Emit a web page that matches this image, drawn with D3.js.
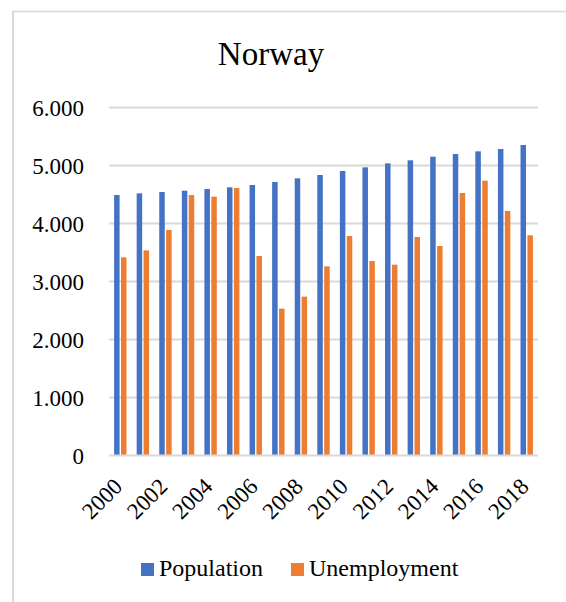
<!DOCTYPE html>
<html>
<head>
<meta charset="utf-8">
<script src="https://cdn.jsdelivr.net/npm/d3@7/dist/d3.min.js"></script>
<style>
  html, body { margin: 0; padding: 0; background: #fff; }
  svg { display: block; }
  text { font-family: "Liberation Serif", "DejaVu Serif", serif; fill: #000; }
</style>
</head>
<body>
<svg id="chart" width="566" height="602"></svg>
<script>
// Norway: population and unemployment (thousands, shown with "." grouping)
const years = [2000, 2001, 2002, 2003, 2004, 2005, 2006, 2007, 2008, 2009,
               2010, 2011, 2012, 2013, 2014, 2015, 2016, 2017, 2018];
const population = [4491, 4520, 4543, 4566, 4595, 4624, 4664, 4716, 4779, 4836,
                    4905, 4968, 5037, 5089, 5152, 5198, 5244, 5284, 5353];
const unemployment = [3417, 3537, 3888, 4491, 4463, 4612, 3440, 2532, 2739, 3261,
                      3784, 3353, 3290, 3767, 3612, 4526, 4738, 4216, 3797];
const seriesNames = ["Population", "Unemployment"];
const seriesColors = ["#4472C4", "#ED7D31"];
const yTicks = [0, 1000, 2000, 3000, 4000, 5000, 6000];
const xLabelYears = [2000, 2002, 2004, 2006, 2008, 2010, 2012, 2014, 2016, 2018];

const svg = d3.select("#chart");

// outer chart frame (top and left edges)
svg.append("line").attr("x1", 12).attr("x2", 566).attr("y1", 11.5).attr("y2", 11.5)
  .attr("stroke", "#D9D9D9").attr("stroke-width", 1.5);
svg.append("line").attr("x1", 13).attr("x2", 13).attr("y1", 11).attr("y2", 602)
  .attr("stroke", "#D9D9D9").attr("stroke-width", 2);

const plot = { left: 109, right: 538, top: 107.5, bottom: 455.5 };

const x = d3.scaleBand().domain(years).range([plot.left, plot.right]).padding(0);
const y = d3.scaleLinear().domain([0, 6000]).range([plot.bottom, plot.top]);

const fmt = v => v === 0 ? "0" : d3.format(",")(v).replace(/,/g, ".");

// gridlines
svg.append("g")
  .selectAll("line").data(yTicks.filter(d => d !== 0)).join("line")
  .attr("x1", plot.left).attr("x2", plot.right)
  .attr("y1", d => y(d)).attr("y2", d => y(d))
  .attr("stroke", "#D9D9D9").attr("stroke-width", 2);

// y axis labels
const yAxis = d3.axisLeft(y).tickValues(yTicks).tickFormat(fmt).tickSize(0).tickPadding(0);
const gy = svg.append("g").attr("transform", `translate(84,0)`).call(yAxis);
gy.select(".domain").remove();
gy.selectAll("text").attr("font-size", 23).attr("fill", "#000")
  .attr("dy", "0.33em");

// bars
const barW = 5.5;
const offsets = [-6.2, 0.7];
const series = [population, unemployment];
series.forEach((vals, si) => {
  svg.append("g").selectAll("rect").data(years).join("rect")
    .attr("x", (d, i) => x(d) + x.bandwidth() / 2 + offsets[si])
    .attr("y", (d, i) => y(vals[i]))
    .attr("width", barW)
    .attr("height", (d, i) => y(0) - y(vals[i]))
    .attr("fill", seriesColors[si]);
});

// baseline
svg.append("line").attr("x1", plot.left).attr("x2", plot.right)
  .attr("y1", y(0)).attr("y2", y(0)).attr("stroke", "#D9D9D9").attr("stroke-width", 2);

// x axis labels, rotated
const xAxis = d3.axisBottom(x).tickValues(xLabelYears).tickSize(0).tickPadding(0);
const gx = svg.append("g").attr("transform", `translate(0,${y(0)})`).call(xAxis);
gx.select(".domain").remove();
gx.selectAll("text")
  .attr("font-size", 23).attr("fill", "#000")
  .attr("text-anchor", "end")
  .attr("transform", "translate(-8,21) rotate(-45)")
  .attr("x", 0).attr("y", 0).attr("dy", "0.7em");

// title
svg.append("text").attr("x", 271).attr("y", 65).attr("text-anchor", "middle")
  .attr("font-size", 33).text("Norway");

// legend
const legendX = [141, 291];
seriesNames.forEach((name, i) => {
  const g = svg.append("g").attr("transform", `translate(${legendX[i]},563)`);
  g.append("rect").attr("width", 13).attr("height", 13).attr("fill", seriesColors[i]);
  g.append("text").attr("x", 18).attr("y", 12.5).attr("font-size", 24).text(name);
});
</script>
</body>
</html>
